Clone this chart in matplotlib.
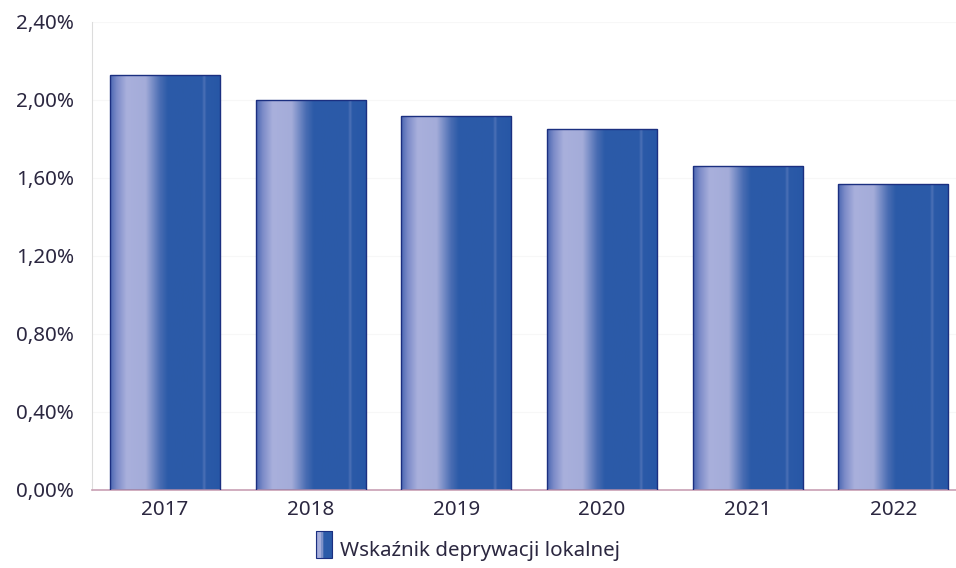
import numpy as np
import matplotlib
matplotlib.use("Agg")
import matplotlib.pyplot as plt
from matplotlib.colors import LinearSegmentedColormap
from matplotlib.patches import Rectangle
from matplotlib.legend_handler import HandlerBase

plt.rcParams['font.family'] = ['Noto Sans', 'DejaVu Sans']

# data (percent)
years = ['2017', '2018', '2019', '2020', '2021', '2022']
values = [2.13, 2.00, 1.92, 1.85, 1.66, 1.57]
yticks = [0.0, 0.4, 0.8, 1.2, 1.6, 2.0, 2.4]
ytick_labels = ['0,00%', '0,40%', '0,80%', '1,20%', '1,60%', '2,00%', '2,40%']
series_name = 'Wskaźnik deprywacji lokalnej'

text_col = '#2b2740'
fsize = 14.8
# horizontal shading across one bar: medium -> light stripe -> dark blue
bar_cmap = LinearSegmentedColormap.from_list('bar', [
    (0.00, '#4a67b2'), (0.06, '#7c8bc8'), (0.15, '#a9b0dc'),
    (0.32, '#a4acd9'), (0.45, '#4a6db3'), (0.52, '#2c5ba8'),
    (0.83, '#2b5aa8'), (0.85, '#4c70b6'), (0.87, '#2b5aa8'),
    (1.00, '#2757a6')])

fig = plt.figure(figsize=(9.56, 5.68), dpi=100)
ax = fig.add_axes([92/956, 1-490/568, 1-92/956, (490-22)/568])

x = np.arange(len(years))
w = 0.755
bars = ax.bar(x, values, width=w, color='none', edgecolor='#1b2f80', linewidth=1.0, zorder=3)
grad = np.linspace(0, 1, 256).reshape(1, -1)
for b in bars:
    bx, by = b.get_x(), b.get_y()
    im = ax.imshow(grad, cmap=bar_cmap, aspect='auto', zorder=2,
                   extent=[bx, bx + b.get_width(), by, by + b.get_height()])
    im.set_clip_path(b)

ax.set_xlim(-0.5, 5.43)
ax.set_ylim(0, 2.4)
ax.set_xticks(x)
ax.set_xticklabels(years)
ax.set_yticks(yticks)
ax.set_yticklabels(ytick_labels)
ax.tick_params(length=0, labelsize=fsize, colors=text_col)
ax.tick_params(axis='x', pad=7)
ax.tick_params(axis='y', pad=13)
for s in ['top', 'right']:
    ax.spines[s].set_visible(False)
ax.spines['left'].set_color('#dcdcdc')
ax.spines['bottom'].set_color('#c9a0b4')
ax.spines['bottom'].set_linewidth(1.2)
ax.grid(axis='y', color='#f7f7f7', linewidth=0.8, zorder=0)
ax.set_axisbelow(True)


class GradientHandler(HandlerBase):
    def create_artists(self, legend, orig_handle, xd, yd, width, height, fontsize, trans):
        n = 12
        arts = []
        for i in range(n):
            r = Rectangle((xd + width * i / n, yd - 3), width / n + 0.3, height + 6,
                          facecolor=bar_cmap((i + 0.5) / n), edgecolor='none', transform=trans)
            arts.append(r)
        arts.append(Rectangle((xd, yd - 3), width, height + 6, facecolor='none',
                              edgecolor='#1b2f80', linewidth=0.8, transform=trans))
        return arts


handle = Rectangle((0, 0), 1, 1)
fig.legend([handle], [series_name], handler_map={Rectangle: GradientHandler()},
           loc='center', bbox_to_anchor=(468/956, 1-550/568), frameon=False,
           fontsize=fsize, handlelength=0.8, handleheight=1.0, handletextpad=0.4,
           labelcolor=text_col)

fig.savefig('out.png', dpi=100)
